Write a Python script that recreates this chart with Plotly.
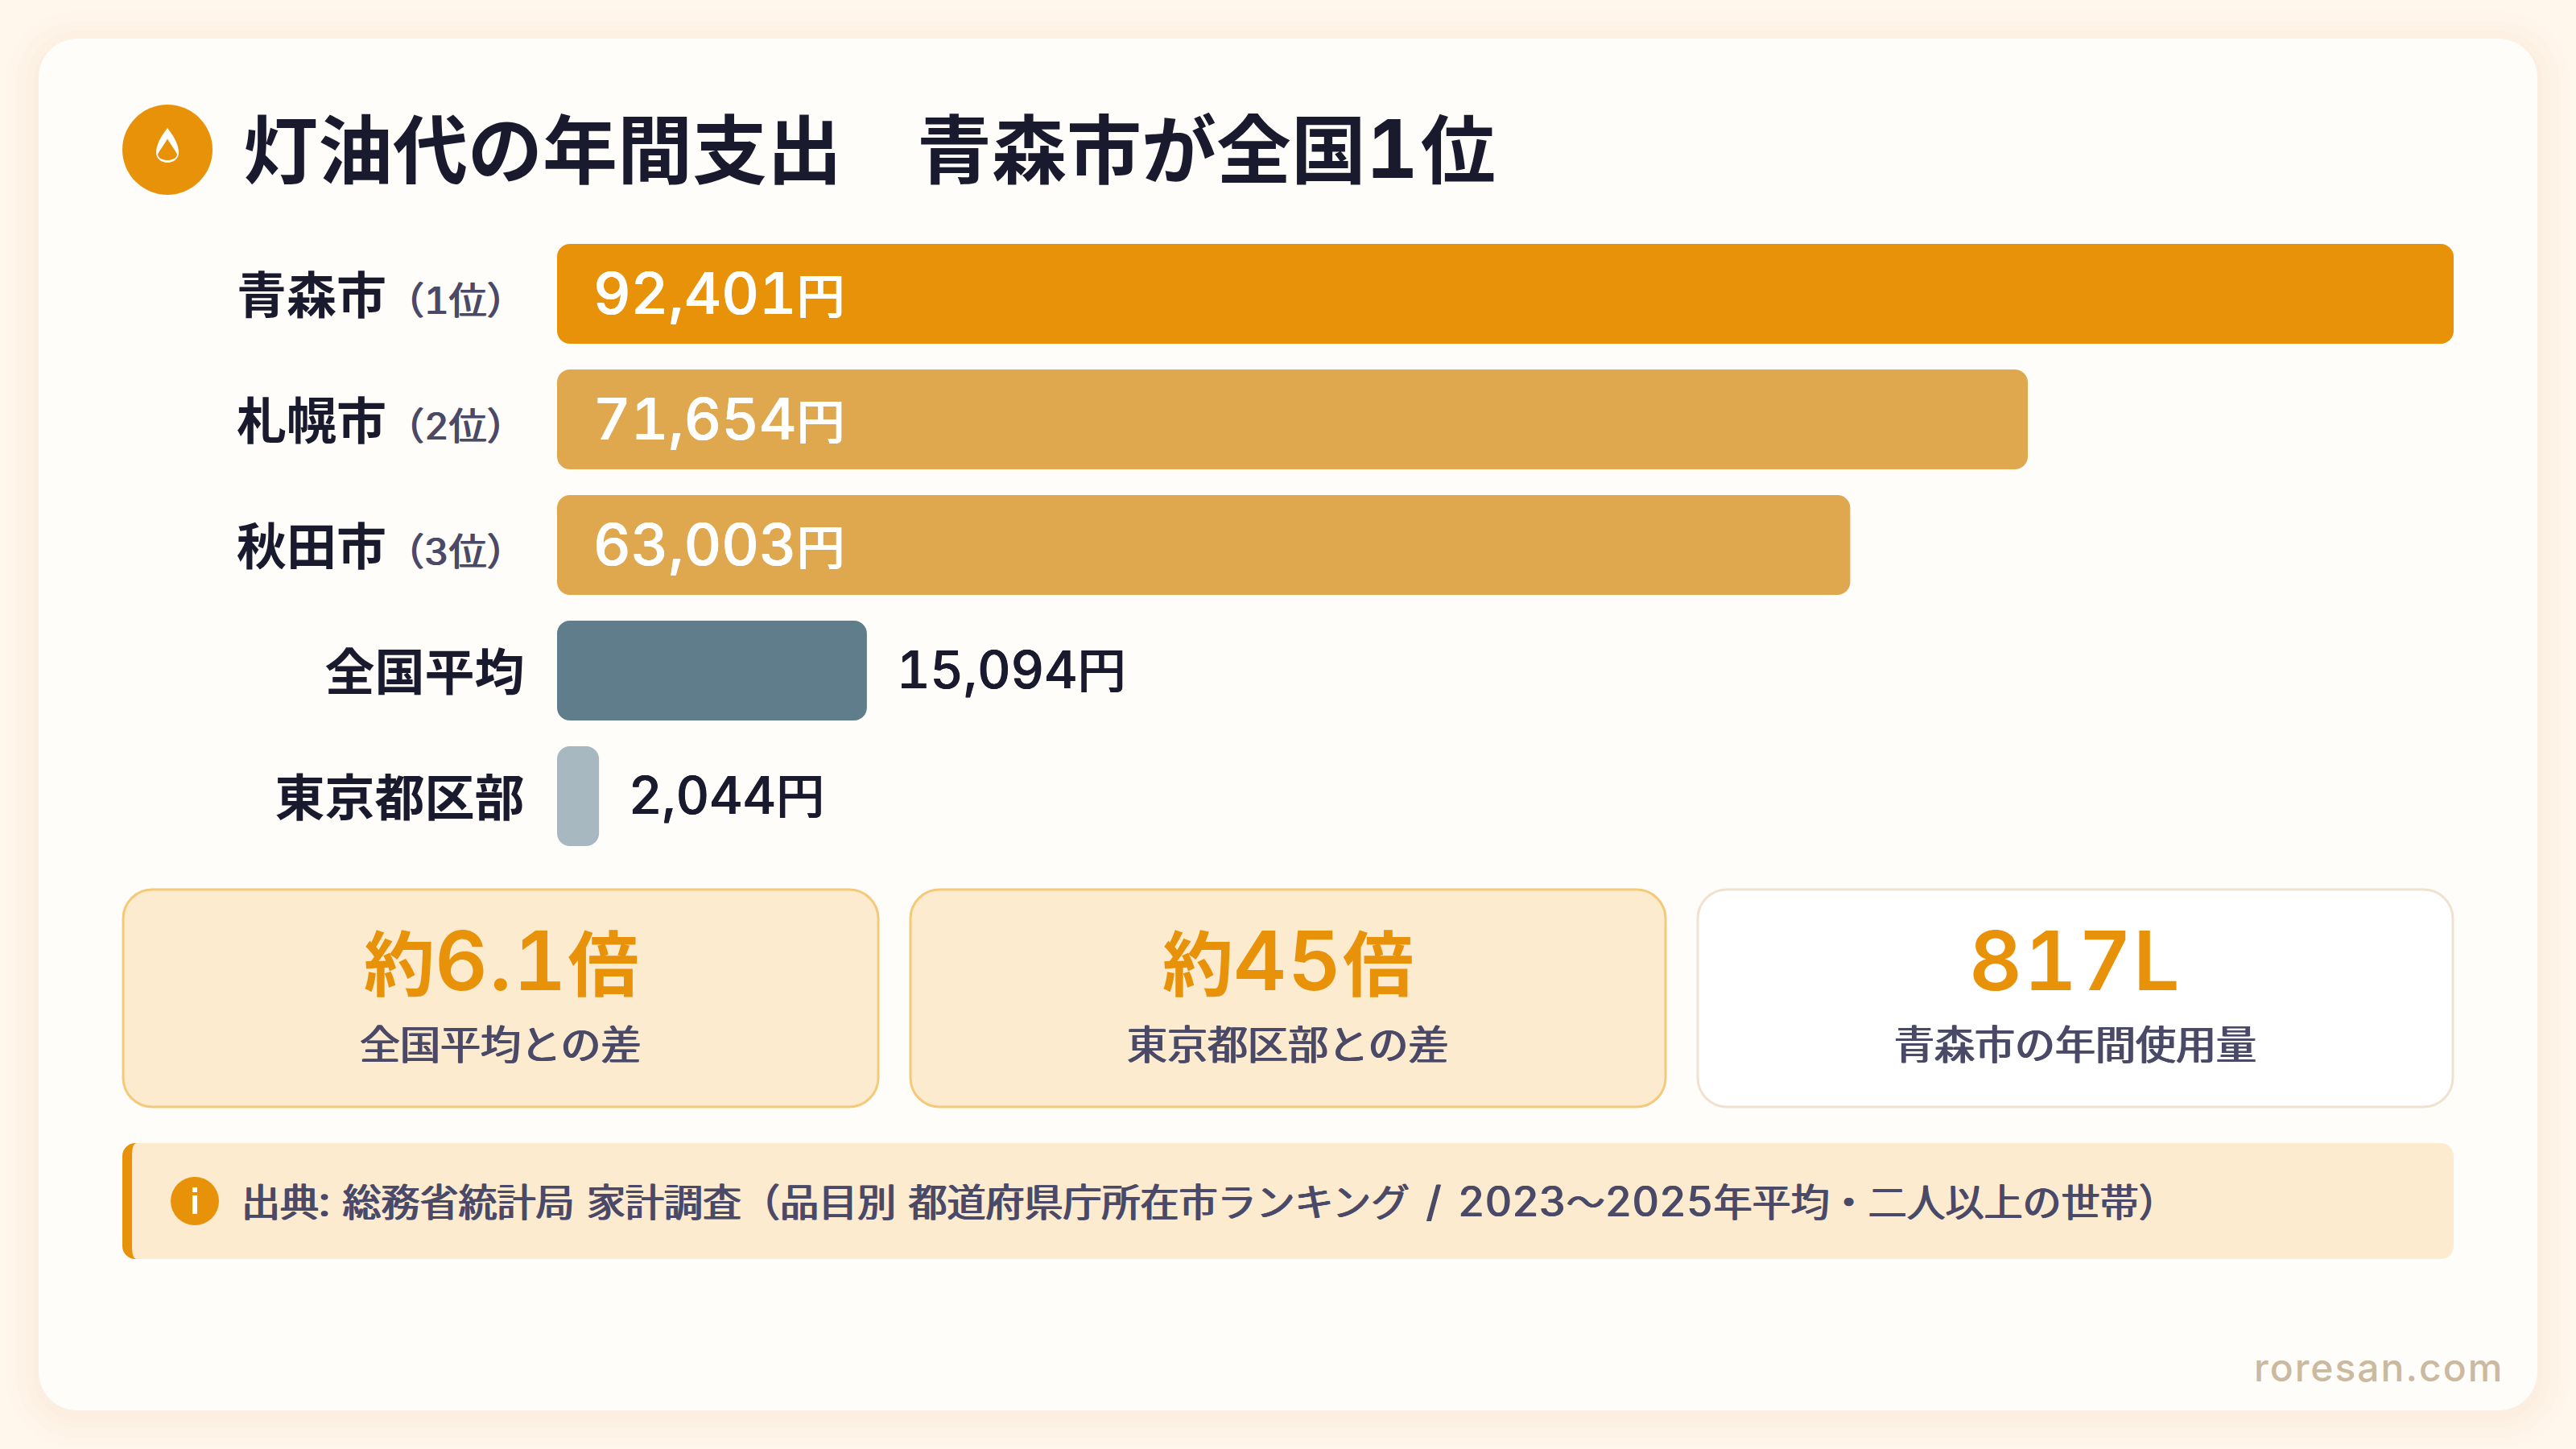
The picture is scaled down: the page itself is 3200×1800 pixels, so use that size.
import re
import plotly.graph_objects as go

W, H = 3200, 1800

# Data
regions = ["青森市", "札幌市", "秋田市", "全国平均", "東京都区部"]
ranks = ["（1位）", "（2位）", "（3位）", "", ""]
values = [92401, 71654, 63003, 15094, 2044]
bar_colors = ["#E8920A", "#E0A84E", "#E0A84E", "#607D8B", "#A8B8C0"]
stat_values = ["約6.1倍", "約45倍", "817L"]
stat_labels = ["全国平均との差", "東京都区部との差", "青森市の年間使用量"]
title = "灯油代の年間支出　青森市が全国1位"
source = "出典: 総務省統計局 家計調査（品目別 都道府県庁所在市ランキング / 2023〜2025年平均・二人以上の世帯）"

FONT = "Inter, 'Noto Sans CJK JP', sans-serif"
DARK = "#1A1A2E"
GRAY = "#4A4A68"
ORANGE = "#E8920A"
CREAM = "#FDEBD0"
CARD = "#FFFDF9"


def px(x):
    return x / W


def py(y):
    return 1 - y / H


def path_of(points):
    # points are (cmd, x, y, ...) in picture pixels
    out = []
    for p in points:
        nums = p[1:]
        coords = [px(n) if i % 2 == 0 else py(n) for i, n in enumerate(nums)]
        out.append(p[0] + " " + " ".join(f"{c:.6f}" for c in coords))
    return " ".join(out) + " Z"


def rrect(x0, y0, x1, y1, r, fill, line=None, lw=0, opacity=1):
    k = r * 0.45
    d = path_of([
        ("M", x0 + r, y0), ("L", x1 - r, y0), ("C", x1 - k, y0, x1, y0 + k, x1, y0 + r),
        ("L", x1, y1 - r), ("C", x1, y1 - k, x1 - k, y1, x1 - r, y1), ("L", x0 + r, y1),
        ("C", x0 + k, y1, x0, y1 - k, x0, y1 - r), ("L", x0, y0 + r), ("C", x0, y0 + k, x0 + k, y0, x0 + r, y0),
    ])
    return dict(type="path", path=d, xref="paper", yref="paper", fillcolor=fill, opacity=opacity,
                line=dict(color=line or "rgba(0,0,0,0)", width=lw), layer="below")


def circle(cx, cy, r, fill):
    return dict(type="circle", xref="paper", yref="paper", x0=px(cx - r), x1=px(cx + r),
                y0=py(cy + r), y1=py(cy - r), fillcolor=fill, line=dict(width=0), layer="below")


def latin(text, size, spacing=0):
    # digits come out larger and tabular in the reference
    style = f"font-size:{size}px;font-variant-numeric:tabular-nums;letter-spacing:{spacing}px"
    return re.sub(r"[0-9A-Za-z,.:/]+", lambda m: f"<span style=\"{style}\">{m.group(0)}</span>", text)


def gap(spacing):
    return f"<span style='letter-spacing:{spacing}px'> </span>"


def label(x, y, text, size, color, anchor="left", weight=400, shadow=None):
    font = dict(family=FONT, size=size, color=color, weight=weight)
    if shadow:
        font["shadow"] = f"{shadow}px 0 0 {color}, -{shadow}px 0 0 {color}"
    return dict(xref="paper", yref="paper", x=px(x), y=py(y), text=text, showarrow=False,
                xanchor=anchor, yanchor="middle", align=anchor, font=font)


rank_style = (f"font-size:47px;font-weight:400;fill:{GRAY};font-variant-numeric:tabular-nums;"
              f"text-shadow:0.9px 0 0 {GRAY},-0.9px 0 0 {GRAY}")
tick_text = [f"{r}<span style='{rank_style}'>{k}</span>" if k else r for r, k in zip(regions, ranks)]

left, right = source.split(" / ")
source_html = (gap(2).join(latin(p, 52) for p in left.split(" "))
               + gap(7) + latin("/", 52) + gap(7) + latin(right, 52))

fig = go.Figure(go.Bar(
    x=values, y=regions, orientation="h", marker=dict(color=bar_colors, line=dict(width=0)),
    hoverinfo="skip",
))

shapes = []
# soft card shadow
for grow, op in [(40, 0.06), (28, 0.08), (16, 0.10), (6, 0.12)]:
    shapes.append(rrect(48 - grow, 48 - grow + 6, 3152 + grow, 1752 + grow + 6, 48 + grow, "#F8E6D2", opacity=op))
shapes.append(rrect(48, 48, 3152, 1752, 48, CARD))

# header icon
shapes.append(circle(208, 186, 56, ORANGE))
shapes.append(dict(type="path", xref="paper", yref="paper", layer="below", fillcolor="#FFFFFF", line=dict(width=0),
                   path=path_of([("M", 208, 159), ("C", 198, 172, 194, 181, 194, 190), ("C", 194, 197, 200, 202, 208, 202),
                                 ("C", 216, 202, 222, 197, 222, 190), ("C", 222, 181, 218, 172, 208, 159)])))
shapes.append(dict(type="path", xref="paper", yref="paper", layer="below", fillcolor=ORANGE, line=dict(width=0),
                   path=path_of([("M", 208, 172.5), ("C", 203, 181, 196, 190, 196, 192), ("C", 197, 197, 202, 199, 208, 199),
                                 ("C", 214, 199, 219, 197, 220, 192), ("C", 220, 190, 213, 181, 208, 172.5)])))

# stat cards
card_x = [(152, 1092), (1130, 2070), (2108, 3048)]
card_fill = [CREAM, CREAM, "#FFFFFF"]
card_line = ["#F5C97A", "#F5C97A", "#F0E2CF"]
for (x0, x1), f, c in zip(card_x, card_fill, card_line):
    shapes.append(rrect(x0 + 1, 1105, x1 - 1, 1375, 36, f, c, 3))

# source strip
shapes.append(rrect(152, 1420, 300, 1564, 16, ORANGE))
shapes.append(dict(type="path", xref="paper", yref="paper", layer="below", fillcolor=CREAM, line=dict(width=0),
                   path=path_of([("M", 170, 1420), ("L", 3032, 1420), ("C", 3041, 1420, 3048, 1427, 3048, 1436),
                                 ("L", 3048, 1548), ("C", 3048, 1557, 3041, 1564, 3032, 1564), ("L", 170, 1564),
                                 ("Q", 164, 1564, 164, 1548), ("L", 164, 1436), ("Q", 164, 1420, 170, 1420)])))
shapes.append(circle(242, 1492, 30, ORANGE))
shapes.append(dict(type="rect", xref="paper", yref="paper", layer="below", fillcolor="#FFFFFF", line=dict(width=0),
                   x0=px(239), x1=px(245), y0=py(1508), y1=py(1485)))
shapes.append(dict(type="rect", xref="paper", yref="paper", layer="below", fillcolor="#FFFFFF", line=dict(width=0),
                   x0=px(239), x1=px(245), y0=py(1481), y1=py(1475)))

# plotly only rounds the far end of a bar, so the near corners get masked in card colour
for i in range(len(values)):
    top, bot = 303 + 156 * i, 427 + 156 * i
    for a, b in [(top, top + 16), (bot, bot - 16)]:
        shapes.append(dict(type="path", xref="paper", yref="paper", layer="above", fillcolor=CARD,
                           line=dict(width=0),
                           path=path_of([("M", 690, a), ("L", 708, a),
                                         ("C", 699, a, 692, a + (b - a) * 0.45, 692, b), ("L", 690, b)])))

annotations = [label(300, 184, latin(title, 100, 3), 93, DARK, weight=700)]

# bar value labels: inside for the long bars, outside for the short ones
for i, (r, v) in enumerate(zip(regions, values)):
    inside = i < 3
    color = "#FFFFFF" if inside else DARK
    annotations.append(dict(
        xref="x", yref="y", x=v if not inside else 0, y=r,
        text=latin(f"{v:,}円", 72 if inside else 64), showarrow=False,
        xanchor="left", yanchor="middle", xshift=35 if not inside else 43, yshift=2,
        font=dict(family=FONT, size=60, color=color, weight=500,
                  shadow=f"0.4px 0 0 {color}, -0.4px 0 0 {color}"),
    ))

for (x0, x1), sv, sl in zip(card_x, stat_values, stat_labels):
    cx = (x0 + x1) / 2
    annotations.append(label(cx, 1193, latin(sv, 102, 2), 88, ORANGE, "center", 600))
    annotations.append(label(cx, 1298, sl, 50, GRAY, "center", 400, shadow=0.9))

annotations.append(label(298, 1492, source_html, 48, GRAY, weight=400, shadow=0.9))
annotations.append(label(3112, 1698, "<span style='letter-spacing:2px'>roresan.com</span>", 48, "#CBB9A0", "right", 500))

fig.update_layout(
    width=W, height=H, margin=dict(l=0, r=0, t=0, b=0),
    paper_bgcolor="#FFF6EC", plot_bgcolor="rgba(0,0,0,0)",
    bargap=32 / 156, barcornerradius=16, showlegend=False, hovermode=False,
    shapes=shapes, annotations=annotations,
    xaxis=dict(domain=[px(692), px(3048)], range=[0, max(values)], visible=False),
    yaxis=dict(domain=[py(1067), py(287)], categoryorder="array", categoryarray=regions,
               autorange="reversed", showline=False, showgrid=False, zeroline=False,
               tickmode="array", tickvals=regions, ticktext=tick_text,
               ticks="outside", ticklen=27, tickcolor="rgba(0,0,0,0)", ticklabelshift=-3,
               tickfont=dict(family=FONT, size=62, color=DARK, weight=700)),
)

fig.write_html("out.html", post_script="document.body.style.margin='0';", config={"displayModeBar": False})
